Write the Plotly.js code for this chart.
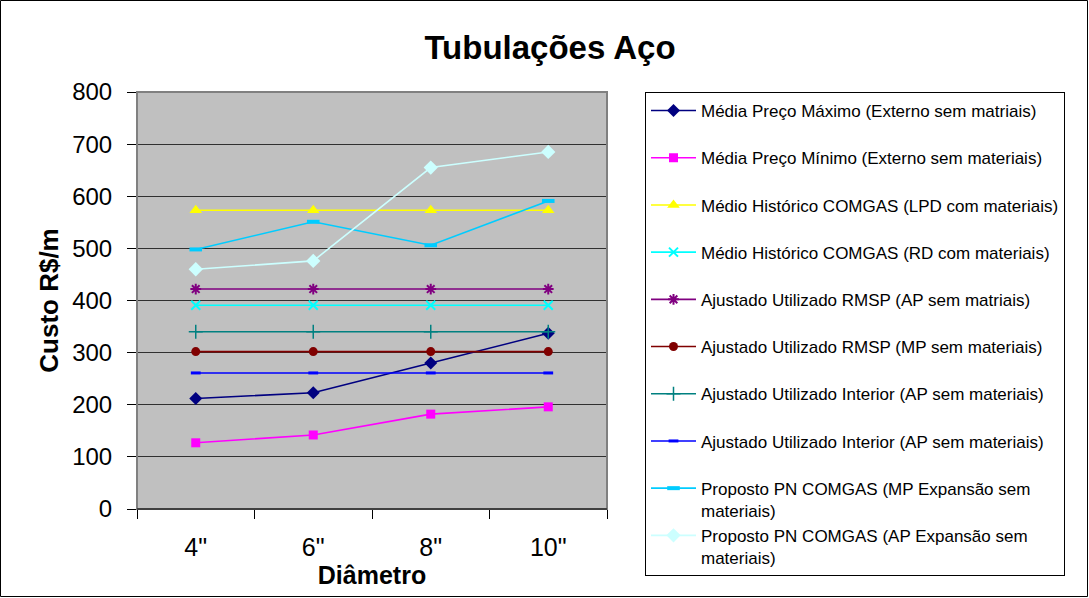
<!DOCTYPE html>
<html><head><meta charset="utf-8">
<script src="https://cdn.plot.ly/plotly-3.0.1.min.js"></script>
<style>html,body{margin:0;padding:0;background:#fff}#chart{width:1089px;height:598px}</style>
</head><body><div id="chart"></div>
<script>
const categories = ['4"', '6"', '8"', '10"'];
const yTicks = [0, 100, 200, 300, 400, 500, 600, 700, 800];

const seriesNames = [
  'Média Preço Máximo (Externo sem matriais)',
  'Média Preço Mínimo (Externo sem materiais)',
  'Médio Histórico COMGAS (LPD com materiais)',
  'Médio Histórico COMGAS (RD com materiais)',
  'Ajustado Utilizado RMSP (AP sem matriais)',
  'Ajustado Utilizado RMSP (MP sem materiais)',
  'Ajustado Utilizado Interior (AP sem materiais)',
  'Ajustado Utilizado Interior (AP sem materiais)',
  'Proposto PN COMGAS (MP Expansão sem<br>materiais)',
  'Proposto PN COMGAS (AP Expansão sem<br>materiais)'
];

const mediaMaximo   = [212, 223, 280, 337];
const mediaMinimo   = [127, 142, 182, 196];
const historicoLPD  = [573, 573, 573, 573];
const historicoRD   = [391, 391, 391, 391];
const rmspAP        = [422, 422, 422, 422];
const rmspMP        = [302, 302, 302, 302];
const interiorAP1   = [340, 340, 340, 340];
const interiorAP2   = [261, 261, 261, 261];
const propostoMP    = [498, 551, 506, 591];
const propostoAP    = [460, 476, 655, 685];

const seriesValues = [mediaMaximo, mediaMinimo, historicoLPD, historicoRD, rmspAP,
  rmspMP, interiorAP1, interiorAP2, propostoMP, propostoAP];

const styles = [
  {color:'#000080', symbol:'diamond', size:10, lw:0},
  {color:'#FF00FF', symbol:'square', size:9, lw:0},
  {color:'#FFFF00', symbol:'triangle-up', size:11, lw:0},
  {color:'#00FFFF', symbol:'x-thin-open', size:9, lw:2},
  {color:'#800080', symbol:'asterisk-open', size:9, lw:2},
  {color:'#800000', symbol:'circle', size:9, lw:0},
  {color:'#008080', symbol:'cross-thin-open', size:10, lw:1.5},
  {color:'#0000FF', symbol:'line-ew-open', size:7, lw:3},
  {color:'#00CCFF', symbol:'line-ew-open', size:9, lw:4},
  {color:'#CCFFFF', symbol:'diamond', size:11, lw:0}
];

const traces = seriesValues.map((vals, i) => {
  const s = styles[i];
  const nm = seriesNames[i].indexOf('<br>') >= 0 ? seriesNames[i] : seriesNames[i] + '<br> ';
  return {
    type: 'scatter', mode: 'lines+markers', x: categories, y: vals, name: nm,
    legendgroup: 'g' + i,
    line: {color: s.color, width: 1.6},
    marker: {color: s.color, symbol: s.symbol, size: s.size,
             line: {color: s.color, width: s.lw}}
  };
});

const L = 137, R = 607, T = 92, B = 509;
const W = 1089, H = 598;
const pw = R - L, ph = B - T;

const layout = {
  width: W, height: H,
  margin: {l: L, r: W - R, t: T, b: H - B, pad: 0},
  paper_bgcolor: '#FFFFFF', plot_bgcolor: '#C0C0C0',
  font: {family: 'Liberation Sans, Arial, sans-serif', color: '#000'},
  title: {text: '<b>Tubulações Aço</b>', font: {size: 33, family: 'Liberation Sans, Arial, sans-serif'},
          x: 550 / W, xref: 'container', xanchor: 'center', y: 1 - 47 / H, yref: 'container', yanchor: 'middle'},
  xaxis: {
    type: 'category', categoryorder: 'array', categoryarray: categories,
    range: [-0.5, 3.5], showgrid: false, zeroline: false,
    showline: true, linecolor: '#000', linewidth: 1,
    ticks: 'outside', tickson: 'boundaries', ticklen: 9, tickcolor: '#000', tickwidth: 1,
    tickfont: {size: 25}, ticklabelstandoff: 16,
    title: {text: '<b>Diâmetro</b>', font: {size: 25}, standoff: 0}
  },
  yaxis: {
    range: [0, 800], tickvals: yTicks, ticktext: yTicks.map(String),
    showgrid: true, gridcolor: '#303030', gridwidth: 1, zeroline: false,
    showline: false, ticks: 'outside', ticklen: 9, tickcolor: '#000', tickwidth: 1,
    tickfont: {size: 24}, ticklabelstandoff: 10,
    title: {text: '<b>Custo R$/m</b>', font: {size: 26}, standoff: 6}
  },
  legend: {
    x: 645 / W, xref: 'container', xanchor: 'left',
    y: 1 - 92 / H, yref: 'container', yanchor: 'top',
    bgcolor: '#FFFFFF', bordercolor: '#000', borderwidth: 1,
    font: {size: 17, family: 'Liberation Sans, Arial, sans-serif'},
    valign: 'top', tracegroupgap: 0, traceorder: 'normal',
    itemwidth: 45, maxheight: 560,
    entrywidth: 440, entrywidthmode: 'pixels'
  },
  shapes: [
    {type: 'rect', xref: 'paper', yref: 'paper', x0: 0, x1: 1, y0: 0, y1: 1,
     line: {color: '#808080', width: 2}, layer: 'above', fillcolor: 'rgba(0,0,0,0)'},
    {type: 'line', xref: 'paper', yref: 'paper', x0: 0, x1: 1, y0: 0, y1: 0,
     line: {color: '#000', width: 1}, layer: 'above'},
    {type: 'rect', xref: 'paper', yref: 'paper',
     x0: (0.5 - L) / pw, x1: (W - 1.5 - L) / pw, y0: (B - (H - 1.5)) / ph, y1: (B - 0.5) / ph,
     line: {color: '#000', width: 1}, fillcolor: 'rgba(0,0,0,0)'}
  ],
  showlegend: true
};

Plotly.newPlot('chart', traces, layout, {displayModeBar: false, staticPlot: true});
</script></body></html>
